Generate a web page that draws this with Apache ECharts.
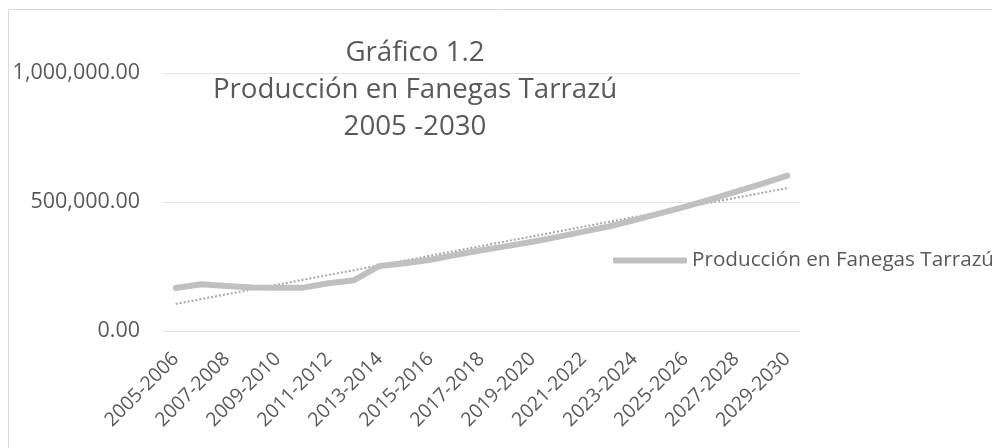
<!DOCTYPE html>
<html>
<head>
<meta charset="utf-8">
<script src="https://cdn.jsdelivr.net/npm/echarts@6/dist/echarts.min.js"></script>
<style>
  html, body { margin: 0; padding: 0; background: #ffffff; }
  #chart { width: 992px; height: 448px; }
</style>
</head>
<body>
<div id="chart"></div>
<script>
const seasons = [
    "2005-2006", "2006-2007", "2007-2008", "2008-2009", "2009-2010",
    "2010-2011", "2011-2012", "2012-2013", "2013-2014", "2014-2015",
    "2015-2016", "2016-2017", "2017-2018", "2018-2019", "2019-2020",
    "2020-2021", "2021-2022", "2022-2023", "2023-2024", "2024-2025",
    "2025-2026", "2026-2027", "2027-2028", "2028-2029", "2029-2030"
];

const produccion = [
    167000, 181000, 174000, 169000, 168000,
    168000, 185000, 197000, 252000, 263000,
    276000, 295000, 313000, 329000, 346000,
    365000, 385000, 405000, 430000, 456000,
    482000, 510000, 540000, 570000, 602000
];

// linear trend, ends
const trendStart = 105000;
const trendEnd = 554000;

const titleLines = ["Gráfico 1.2", "Producción en Fanegas Tarrazú", "2005 -2030"];
const seriesName = "Producción en Fanegas Tarrazú";

const trend = seasons.map((s, i) => {
    if (i === 0) return trendStart;
    if (i === seasons.length - 1) return trendEnd;
    return null;
});

const font = "'Open Sans', sans-serif";
const textColor = "#595959";

const chart = echarts.init(document.getElementById("chart"));

chart.setOption({
    animation: false,
    textStyle: { fontFamily: font },
    graphic: [
        {
            type: "rect",
            left: 6,
            top: 7,
            shape: { width: 1100, height: 600 },
            style: { fill: "none", stroke: "#d9d9d9", lineWidth: 1 },
            silent: true
        }
    ],
    title: {
        text: titleLines.join("\n"),
        left: 410,
        top: 30,
        textAlign: "center",
        textStyle: {
            fontFamily: font,
            fontSize: 27.7,
            fontWeight: "normal",
            color: textColor,
            lineHeight: 37
        }
    },
    legend: {
        data: [seriesName],
        left: 608,
        top: 245,
        itemWidth: 74,
        itemHeight: 6,
        itemGap: 5,
        icon: "roundRect",
        itemStyle: { color: "#c0c0c0" },
        textStyle: {
            fontFamily: font,
            fontSize: 20.7,
            color: textColor
        }
    },
    grid: {
        left: 163,
        right: 192,
        top: 73,
        bottom: 117,
        containLabel: false
    },
    xAxis: {
        type: "category",
        data: seasons,
        boundaryGap: true,
        axisLine: { show: true, lineStyle: { color: "#e3e3e3" } },
        axisTick: { show: false },
        axisLabel: {
            interval: 1,
            rotate: 45,
            margin: 25,
            fontFamily: font,
            fontSize: 19.5,
            color: textColor
        }
    },
    yAxis: {
        type: "value",
        min: 0,
        max: 1000000,
        interval: 500000,
        axisLine: { show: false },
        axisTick: { show: false },
        splitLine: { lineStyle: { color: "#e3e3e3", width: 1 } },
        axisLabel: {
            margin: 23,
            padding: [8, 0, 0, 0],
            fontFamily: font,
            fontSize: 21.5,
            color: textColor,
            formatter: v => v.toLocaleString("en-US", { minimumFractionDigits: 2, maximumFractionDigits: 2 })
        }
    },
    series: [
        {
            name: "Tendencia",
            type: "line",
            data: trend,
            connectNulls: true,
            symbol: "none",
            silent: true,
            lineStyle: { color: "#a6a6a6", width: 2, type: "dotted" },
            z: 1
        },
        {
            name: seriesName,
            type: "line",
            data: produccion,
            symbol: "none",
            lineStyle: { color: "#c0c0c0", width: 6, cap: "round", join: "round" },
            itemStyle: { color: "#c0c0c0" },
            z: 2
        }
    ]
});

window.addEventListener("resize", () => chart.resize());
</script>
</body>
</html>
